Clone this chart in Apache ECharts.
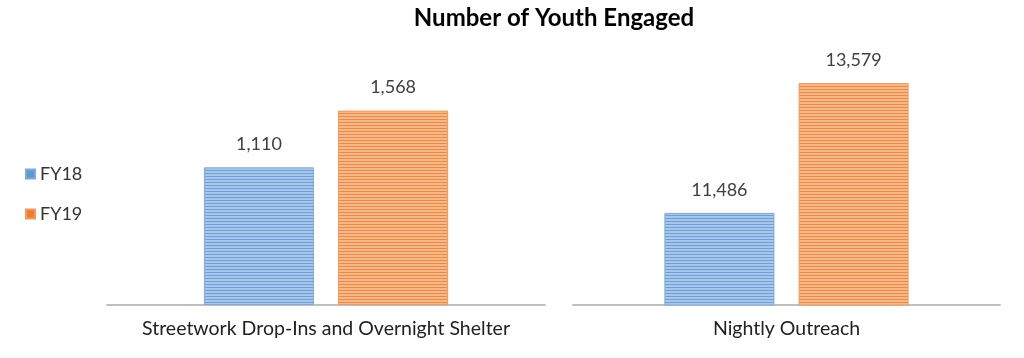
<!DOCTYPE html>
<html>
<head>
<meta charset="utf-8">
<script src="https://cdn.jsdelivr.net/npm/echarts@6/dist/echarts.min.js"></script>
<style>
html,body{margin:0;padding:0;background:#fff;}
#chart{width:1024px;height:358px;}
</style>
</head>
<body>
<div id="chart"></div>
<script>
const categories = ['Streetwork Drop-Ins and Overnight Shelter', 'Nightly Outreach'];
const seriesNames = ['FY18', 'FY19'];
const fy18 = [1110, 11486];
const fy19 = [1568, 13579];
const axisMin = [0, 10000];
const axisMax = [2000, 14000];

function stripes(light, dark) {
  const c = document.createElement('canvas');
  c.width = 4; c.height = 3;
  const ctx = c.getContext('2d');
  ctx.fillStyle = light; ctx.fillRect(0, 0, 4, 2);
  ctx.fillStyle = dark; ctx.fillRect(0, 2, 4, 1);
  return c;
}
const blueFill = { image: stripes('#a7c7ea', '#6e9fd6'), repeat: 'repeat' };
const orangeFill = { image: stripes('#f6b888', '#ec8a45'), repeat: 'repeat' };
const font = 'Lato, "Open Sans", sans-serif';

const chart = echarts.init(document.getElementById('chart'));
const grids = [
  { left: 107, right: 1024 - 545, top: 57, bottom: 53 },
  { left: 573, right: 24, top: 57, bottom: 53 }
];
const xAxes = categories.map((c, i) => ({
  type: 'category', gridIndex: i, data: [c],
  axisLine: { lineStyle: { color: '#bfbfbf', width: 2 } },
  axisTick: { show: false },
  axisLabel: { color: '#222', fontSize: 19.5, fontFamily: font, margin: 14 }
}));
const yAxes = categories.map((c, i) => ({
  type: 'value', gridIndex: i, min: axisMin[i], max: axisMax[i], show: false,
  splitLine: { show: false }
}));
const series = [];
categories.forEach((c, i) => {
  [fy18, fy19].forEach((arr, k) => {
    series.push({
      name: seriesNames[k], type: 'bar', xAxisIndex: i, yAxisIndex: i,
      data: [arr[i]], barWidth: 110, barGap: '22%',
      itemStyle: {
        color: k === 0 ? blueFill : orangeFill,
        borderColor: k === 0 ? '#7fa9da' : '#ef9a5e', borderWidth: 1
      },
      label: {
        show: true, position: 'top', distance: 14, color: '#404040',
        fontSize: 18, fontFamily: font,
        formatter: p => p.value.toLocaleString('en-US')
      }
    });
  });
});

chart.setOption({
  animation: false,
  title: {
    text: 'Number of Youth Engaged', left: 549, top: 1, textAlign: 'center',
    textStyle: { fontSize: 24, fontWeight: 'bold', color: '#000', fontFamily: font }
  },
  legend: {
    data: [
      { name: 'FY18', itemStyle: { color: '#5b9bd5' } },
      { name: 'FY19', itemStyle: { color: '#ed7d31' } }
    ],
    orient: 'vertical', left: 20, top: 160, itemGap: 22,
    icon: 'rect', itemWidth: 9, itemHeight: 9,
    textStyle: { color: '#333', fontSize: 18, fontFamily: font }
  },
  grid: grids, xAxis: xAxes, yAxis: yAxes, series: series
});
</script>
</body>
</html>
